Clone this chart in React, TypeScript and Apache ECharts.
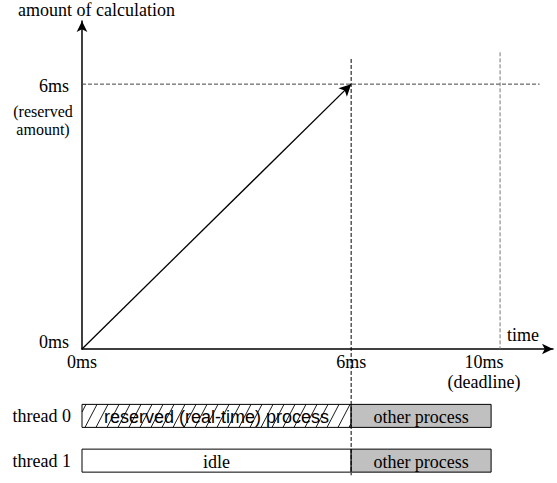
import React, { useEffect, useRef } from "react";
import * as echarts from "echarts";

// ---- data ----
const timeTickValues = [0, 6];
const timeTickLabels = ["0ms", "6ms"];
const amountTickValues = [0, 6];
const amountTickLabels = ["0ms", "6ms"];
const reservedAmount = 6; // ms of calculation reserved
const reservedTime = 6; // ms when reservation completes
const progressTimes = [0, 6];
const progressAmounts = [0, 6];
const deadlineLabel = "10ms";
const deadlineNote = "(deadline)";
const deadlinePos = 9.32; // where the schematic draws the deadline on its time axis
const reservedNote = "(reserved\namount)";
const xAxisMax = 10.5;
const yAxisMax = 7.43;

const threads = ["thread 0", "thread 1"];
const segThread = [0, 0, 1, 1];
const segStart = [0, 6, 0, 6];
const segEnd = [6, 9.12, 6, 9.12];
const segLabel = ["reserved (real-time) process", "other process", "idle", "other process"];
const segKind = ["hatch", "busy", "idle", "busy"];

// guide extents (in axis units of the upper chart)
const hGuideEnd = 10.2;
const vGuideTop = 6.57;
const vGuideBottom = -2.86;
const deadlineGuideTop = 6.72;

const SERIF = '"Liberation Serif", "Times New Roman", serif';
const SANS = '"Liberation Sans", Arial, sans-serif';

export default function App() {
  const ref = useRef<HTMLDivElement>(null);

  useEffect(() => {
    if (!ref.current) return;
    const chart = echarts.init(ref.current, null, { renderer: "svg" });

    const segData = segStart.map((s, i) => [s, segEnd[i], segThread[i]]);

    const option: any = {
      animation: false,
      backgroundColor: "#fff",
      textStyle: { fontFamily: SERIF, color: "#000" },
      grid: [
        { left: 82, top: 21, width: 471, height: 328 },
        { left: 82, top: 393.5, width: 471, height: 92 },
      ],
      xAxis: [
        {
          gridIndex: 0,
          type: "value",
          min: 0,
          max: xAxisMax,
          name: "time",
          nameLocation: "end",
          nameGap: -46,
          nameTextStyle: {
            fontFamily: SERIF,
            fontSize: 18,
            color: "#000",
            align: "left",
            verticalAlign: "bottom",
            padding: [0, 0, 5, 0],
          },
          axisLine: {
            show: true,
            symbol: ["none", "arrow"],
            symbolSize: [8, 11],
            lineStyle: { color: "#000", width: 1.5 },
          },
          axisTick: { show: false },
          splitLine: { show: false },
          axisLabel: {
            customValues: timeTickValues,
            margin: 4,
            fontFamily: SERIF,
            fontSize: 18,
            color: "#000",
            formatter: (v: number) => {
              const i = timeTickValues.indexOf(v);
              return i >= 0 ? timeTickLabels[i] : "";
            },
          },
        },
        { gridIndex: 1, type: "value", min: 0, max: xAxisMax, show: false },
      ],
      yAxis: [
        {
          gridIndex: 0,
          type: "value",
          min: 0,
          max: yAxisMax,
          name: "amount of calculation",
          nameLocation: "end",
          nameGap: 2,
          nameTextStyle: {
            fontFamily: SERIF,
            fontSize: 18,
            color: "#000",
            align: "center",
            padding: [0, 0, 0, 29],
          },
          axisLine: {
            show: true,
            symbol: ["none", "arrow"],
            symbolSize: [8, 11],
            lineStyle: { color: "#000", width: 1.5 },
          },
          axisTick: { show: false },
          splitLine: { show: false },
          axisLabel: {
            customValues: amountTickValues,
            margin: 13,
            fontFamily: SERIF,
            fontSize: 18,
            color: "#000",
            formatter: (v: number) => {
              const i = amountTickValues.indexOf(v);
              if (i < 0) return "";
              return v === 0 ? `{lo|${amountTickLabels[i]}}` : `{hi|${amountTickLabels[i]}}`;
            },
            rich: {
              lo: { fontFamily: SERIF, fontSize: 18, color: "#000", padding: [0, 0, 14, 0] },
              hi: { fontFamily: SERIF, fontSize: 18, color: "#000", padding: [4, 0, 0, 0] },
            },
          },
        },
        {
          gridIndex: 1,
          type: "category",
          data: threads,
          inverse: true,
          axisLine: { show: false },
          axisTick: { show: false },
          splitLine: { show: false },
          axisLabel: { margin: 11, fontFamily: SERIF, fontSize: 18, color: "#000" },
        },
      ],
      series: [
        {
          name: "reserved amount guide",
          type: "line",
          xAxisIndex: 0,
          yAxisIndex: 0,
          clip: false,
          silent: true,
          symbol: "none",
          data: [
            [0, reservedAmount],
            [hGuideEnd, reservedAmount],
          ],
          lineStyle: { color: "#444", width: 1, type: [4, 2] },
          z: 1,
        },
        {
          name: "reserved time guide",
          type: "line",
          xAxisIndex: 0,
          yAxisIndex: 0,
          clip: false,
          silent: true,
          symbol: "none",
          data: [
            [reservedTime, vGuideTop],
            [reservedTime, vGuideBottom],
          ],
          lineStyle: { color: "#000", width: 1, type: [4, 2] },
          z: 5,
        },
        {
          name: "deadline guide",
          type: "line",
          xAxisIndex: 0,
          yAxisIndex: 0,
          clip: false,
          silent: true,
          symbol: "none",
          data: [
            [deadlinePos, deadlineGuideTop],
            [deadlinePos, 0],
          ],
          lineStyle: { color: "#777", width: 1, type: [4, 2] },
          z: 1,
        },
        {
          name: "progress",
          type: "line",
          xAxisIndex: 0,
          yAxisIndex: 0,
          clip: false,
          silent: true,
          data: progressTimes.map((t, i) =>
            i === progressTimes.length - 1
              ? { value: [t, progressAmounts[i]], symbol: "arrow", symbolSize: [9, 12], symbolRotate: -45 }
              : { value: [t, progressAmounts[i]], symbol: "none" }
          ),
          showSymbol: true,
          itemStyle: { color: "#000" },
          lineStyle: { color: "#000", width: 1.3 },
          z: 3,
        },
        {
          name: "threads",
          type: "custom",
          xAxisIndex: 1,
          yAxisIndex: 1,
          silent: true,
          encode: { x: [0, 1], y: 2 },
          data: segData,
          z: 2,
          renderItem: (params: any, api: any) => {
            const i = params.dataIndex;
            const s = api.value(0);
            const e = api.value(1);
            const t = api.value(2);
            const p0 = api.coord([s, t]);
            const p1 = api.coord([e, t]);
            const h = 23;
            const x0 = p0[0];
            const x1 = p1[0];
            const y0 = p0[1] - h / 2;
            const y1 = y0 + h;
            const kind = segKind[i];
            const children: any[] = [];
            children.push({
              type: "rect",
              shape: { x: x0, y: y0, width: x1 - x0, height: h },
              style: {
                fill: kind === "busy" ? "#c0c0c0" : "#fff",
                stroke: "#000",
                lineWidth: 1,
              },
            });
            if (kind === "hatch") {
              const run = 12;
              const step = 11;
              for (let c = x0 - run + 4; c < x1; c += step) {
                let bx = c;
                let by = y1;
                let tx = c + run;
                let ty = y0;
                if (bx < x0) {
                  by = y1 - ((x0 - c) * h) / run;
                  bx = x0;
                }
                if (tx > x1) {
                  ty = y1 - ((x1 - c) * h) / run;
                  tx = x1;
                }
                if (tx - bx <= 0.5) continue;
                children.push({
                  type: "line",
                  shape: { x1: bx, y1: by, x2: tx, y2: ty },
                  style: { stroke: "#000", lineWidth: 0.9 },
                });
              }
            }
            children.push({
              type: "text",
              x: (x0 + x1) / 2,
              y: (y0 + y1) / 2 + 1,
              style: {
                text: segLabel[i],
                align: "center",
                verticalAlign: "middle",
                fontFamily: kind === "hatch" ? SANS : SERIF,
                fontSize: 18,
                fill: "#000",
              },
            });
            return { type: "group", children };
          },
        },
      ],
    };

    chart.setOption(option);

    const amountPx = chart.convertToPixel({ gridIndex: 0 }, [0, reservedAmount]) as number[];
    const deadlinePx = chart.convertToPixel({ gridIndex: 0 }, [deadlinePos, 0]) as number[];

    chart.setOption({
      graphic: [
        {
          type: "text",
          x: amountPx[0] - 39,
          y: amountPx[1] + 18,
          silent: true,
          style: {
            text: reservedNote,
            align: "center",
            verticalAlign: "top",
            fontFamily: SERIF,
            fontSize: 16,
            lineHeight: 18,
            fill: "#000",
          },
        },
        {
          type: "text",
          x: deadlinePx[0] - 16,
          y: deadlinePx[1] + 3,
          silent: true,
          style: {
            text: `${deadlineLabel}\n${deadlineNote}`,
            align: "center",
            verticalAlign: "top",
            fontFamily: SERIF,
            fontSize: 18,
            lineHeight: 20,
            fill: "#000",
          },
        },
      ],
    });

    return () => {
      chart.dispose();
    };
  }, []);

  return (
    <div
      ref={ref}
      style={{ position: "fixed", left: 0, top: 0, width: 557, height: 483, background: "#fff" }}
    />
  );
}
